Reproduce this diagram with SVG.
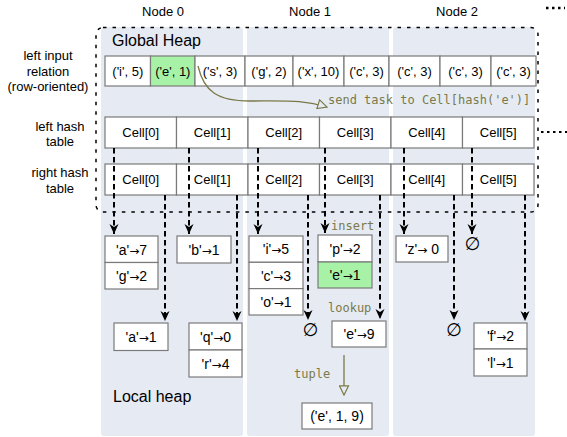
<svg xmlns="http://www.w3.org/2000/svg" width="567" height="437" viewBox="0 0 567 437">
<style>
.panel{fill:#e6eaf3}
.cell{fill:#fff;stroke:#7a7a7a;stroke-width:1.2}
.green{fill:#a8f2a8}
.t{font-family:"Liberation Sans",Arial,sans-serif;font-size:13px;text-anchor:middle;fill:#000}
.bt{font-size:14px}
.ar{font-family:"DejaVu Sans",sans-serif;font-size:12px}
.lab{font-family:"Liberation Sans",Arial,sans-serif;font-size:13px;text-anchor:middle;fill:#000}
.big{font-family:"Liberation Sans",Arial,sans-serif;font-size:16px;fill:#000}
.mono{font-family:"DejaVu Sans Mono","Liberation Mono",monospace;font-size:12px;fill:#7a7a48}
.empty{font-family:"DejaVu Sans",sans-serif;font-size:18px;text-anchor:middle;fill:#000}
.dash{stroke:#000;stroke-width:2;stroke-dasharray:5.5 3.5;fill:none;marker-end:url(#ah)}
.olive{stroke:#7a7a48;stroke-width:1.3;fill:none;marker-end:url(#tri)}
.dots{stroke:#000;fill:none}
</style>
<defs>
<marker id="ah" viewBox="0 0 10 10" refX="10" refY="5" markerWidth="10" markerHeight="10" markerUnits="userSpaceOnUse" orient="auto">
<path d="M0,0.5 L10,5 L0,9.5 L3,5 Z" fill="#000"/>
</marker>
<marker id="tri" viewBox="0 0 12 12" refX="11" refY="6" markerWidth="11" markerHeight="11" markerUnits="userSpaceOnUse" orient="auto">
<path d="M1,1 L11,6 L1,11 Z" fill="#e6eaf3" stroke="#7a7a48" stroke-width="1.3"/>
</marker>
</defs>

<g id="panels">
<rect class="panel" x="101" y="27" width="142" height="409" rx="3"/>
<rect class="panel" x="247" y="27" width="142" height="409" rx="3"/>
<rect class="panel" x="393" y="27" width="142" height="409" rx="3"/>
</g>

<g id="labels">
<text class="lab" x="163" y="16">Node 0</text>
<text class="lab" x="310" y="16">Node 1</text>
<text class="lab" x="457" y="16">Node 2</text>
<path class="dots" d="M546,8 L565,8" stroke-width="2.5" stroke-dasharray="2.5 3.5"/>
<text class="lab" x="48" y="60">left input</text>
<text class="lab" x="48" y="75.5">relation</text>
<text class="lab" x="48" y="91">(row-oriented)</text>
<text class="lab" x="60" y="130.5">left hash</text>
<text class="lab" x="60" y="146">table</text>
<text class="lab" x="60" y="177">right hash</text>
<text class="lab" x="60" y="192.5">table</text>
<text class="big" x="112" y="46">Global Heap</text>
<text class="big" x="113" y="402">Local heap</text>
</g>

<g id="global-heap">
<rect x="96" y="27.5" width="442" height="184.5" rx="7" fill="none" stroke="#000" stroke-width="1.5" stroke-dasharray="3.5 6"/>
<path class="dots" d="M541,132 L567,132" stroke-width="2" stroke-dasharray="2.5 3.5"/>
</g>

<g id="input-relation">
<rect class="cell" x="105" y="56" width="45.5" height="30"/>
<rect class="cell green" x="150.5" y="56" width="44.5" height="30"/>
<rect class="cell" x="195" y="56" width="50" height="30"/>
<rect class="cell" x="245" y="56" width="48" height="30"/>
<rect class="cell" x="293" y="56" width="51" height="30"/>
<rect class="cell" x="344" y="56" width="45" height="30"/>
<rect class="cell" x="389" y="56" width="51" height="30"/>
<rect class="cell" x="440" y="56" width="51" height="30"/>
<rect class="cell" x="491" y="56" width="45" height="30"/>
<text class="t" x="127.8" y="75.5">('i', 5)</text>
<text class="t" x="172.8" y="75.5">('e', 1)</text>
<text class="t" x="220" y="75.5">('s', 3)</text>
<text class="t" x="269" y="75.5">('g', 2)</text>
<text class="t" x="318.5" y="75.5">('x', 10)</text>
<text class="t" x="366.5" y="75.5">('c', 3)</text>
<text class="t" x="414.5" y="75.5">('c', 3)</text>
<text class="t" x="465.5" y="75.5">('c', 3)</text>
<text class="t" x="513.5" y="75.5">('c', 3)</text>
</g>

<g id="left-hash-table">
<rect class="cell" x="105" y="117" width="71.5" height="31"/>
<rect class="cell" x="176.5" y="117" width="71.5" height="31"/>
<rect class="cell" x="248" y="117" width="71.5" height="31"/>
<rect class="cell" x="319.5" y="117" width="71.5" height="31"/>
<rect class="cell" x="391" y="117" width="71.5" height="31"/>
<rect class="cell" x="462.5" y="117" width="71.5" height="31"/>
<text class="t" x="140.8" y="137">Cell[0]</text>
<text class="t" x="212.3" y="137">Cell[1]</text>
<text class="t" x="283.8" y="137">Cell[2]</text>
<text class="t" x="355.3" y="137">Cell[3]</text>
<text class="t" x="426.8" y="137">Cell[4]</text>
<text class="t" x="498.3" y="137">Cell[5]</text>
</g>

<g id="right-hash-table">
<rect class="cell" x="105" y="164" width="71.5" height="31"/>
<rect class="cell" x="176.5" y="164" width="71.5" height="31"/>
<rect class="cell" x="248" y="164" width="71.5" height="31"/>
<rect class="cell" x="319.5" y="164" width="71.5" height="31"/>
<rect class="cell" x="391" y="164" width="71.5" height="31"/>
<rect class="cell" x="462.5" y="164" width="71.5" height="31"/>
<text class="t" x="140.8" y="184">Cell[0]</text>
<text class="t" x="212.3" y="184">Cell[1]</text>
<text class="t" x="283.8" y="184">Cell[2]</text>
<text class="t" x="355.3" y="184">Cell[3]</text>
<text class="t" x="426.8" y="184">Cell[4]</text>
<text class="t" x="498.3" y="184">Cell[5]</text>
</g>

<g id="list-l0">
<rect class="cell" x="105" y="236" width="53" height="26.5"/>
<rect class="cell" x="105" y="262.5" width="53" height="26.5"/>
<text class="t bt" x="131.5" y="254.5">'a'<tspan class="ar">→</tspan>7</text>
<text class="t bt" x="131.5" y="281">'g'<tspan class="ar">→</tspan>2</text>
</g>
<g id="list-l1">
<rect class="cell" x="177" y="236" width="54" height="27"/>
<text class="t bt" x="204" y="254.5">'b'<tspan class="ar">→</tspan>1</text>
</g>
<g id="list-l2">
<rect class="cell" x="249" y="236" width="54" height="26.3"/>
<rect class="cell" x="249" y="262.3" width="54" height="26.3"/>
<rect class="cell" x="249" y="288.6" width="54" height="26.4"/>
<text class="t bt" x="276" y="254.3">'i'<tspan class="ar">→</tspan>5</text>
<text class="t bt" x="276" y="280.6">'c'<tspan class="ar">→</tspan>3</text>
<text class="t bt" x="276" y="307">'o'<tspan class="ar">→</tspan>1</text>
</g>
<g id="list-l3">
<rect class="cell" x="318" y="235" width="54" height="27"/>
<rect class="cell green" x="318" y="262" width="54" height="26"/>
<text class="t bt" x="345" y="253.5">'p'<tspan class="ar">→</tspan>2</text>
<text class="t bt" x="345" y="280">'e'<tspan class="ar">→</tspan>1</text>
</g>
<g id="list-l4">
<rect class="cell" x="396" y="236" width="52" height="26"/>
<text class="t bt" x="422" y="254">'z'<tspan class="ar">→</tspan> 0</text>
</g>
<g id="empty-l5">
<text class="empty" x="472.5" y="250">∅</text>
</g>

<g id="list-r0">
<rect class="cell" x="114" y="323" width="54" height="27.5"/>
<text class="t bt" x="141" y="341.5">'a'<tspan class="ar">→</tspan>1</text>
</g>
<g id="list-r1">
<rect class="cell" x="189" y="323" width="53" height="27"/>
<rect class="cell" x="189" y="350" width="53" height="27"/>
<text class="t bt" x="215.5" y="341.5">'q'<tspan class="ar">→</tspan>0</text>
<text class="t bt" x="215.5" y="368.5">'r'<tspan class="ar">→</tspan>4</text>
</g>
<g id="empty-r2">
<text class="empty" x="310.5" y="336">∅</text>
</g>
<g id="list-r3">
<rect class="cell" x="332" y="321" width="54" height="26"/>
<text class="t bt" x="359" y="339">'e'<tspan class="ar">→</tspan>9</text>
</g>
<g id="empty-r4">
<text class="empty" x="454" y="336">∅</text>
</g>
<g id="list-r5">
<rect class="cell" x="474" y="323" width="53" height="26"/>
<rect class="cell" x="474" y="349" width="53" height="27"/>
<text class="t bt" x="500.5" y="341">'f'<tspan class="ar">→</tspan>2</text>
<text class="t bt" x="500.5" y="367.5">'l'<tspan class="ar">→</tspan>1</text>
</g>
<g id="result">
<rect class="cell" x="302" y="403" width="70" height="26"/>
<text class="t bt" x="337" y="421">('e', 1, 9)</text>
</g>

<g id="connectors">
<path class="dash" d="M114,148 L114,234"/>
<path class="dash" d="M189,148 L189,234"/>
<path class="dash" d="M258,148 L258,234"/>
<path class="dash" d="M325,148 L325,233"/>
<path class="dash" d="M404,148 L404,234"/>
<path class="dash" d="M472,148 L472,234"/>
<path class="dash" d="M165,195 L165,321"/>
<path class="dash" d="M237,195 L237,321"/>
<path class="dash" d="M308,195 L308,320"/>
<path class="dash" d="M380,195 L380,319"/>
<path class="dash" d="M454,195 L454,320"/>
<path class="dash" d="M525,195 L525,321"/>
<path class="olive" d="M198,66 C204,92 218,101 250,101 C290,101 305,100 327,107"/>
<path class="olive" d="M344,355 L344,395"/>
<text class="mono" x="328" y="104">send task to Cell[hash('e')]</text>
<text class="mono" x="331" y="230">insert</text>
<text class="mono" x="328" y="312">lookup</text>
<text class="mono" x="294" y="378">tuple</text>
</g>
</svg>
